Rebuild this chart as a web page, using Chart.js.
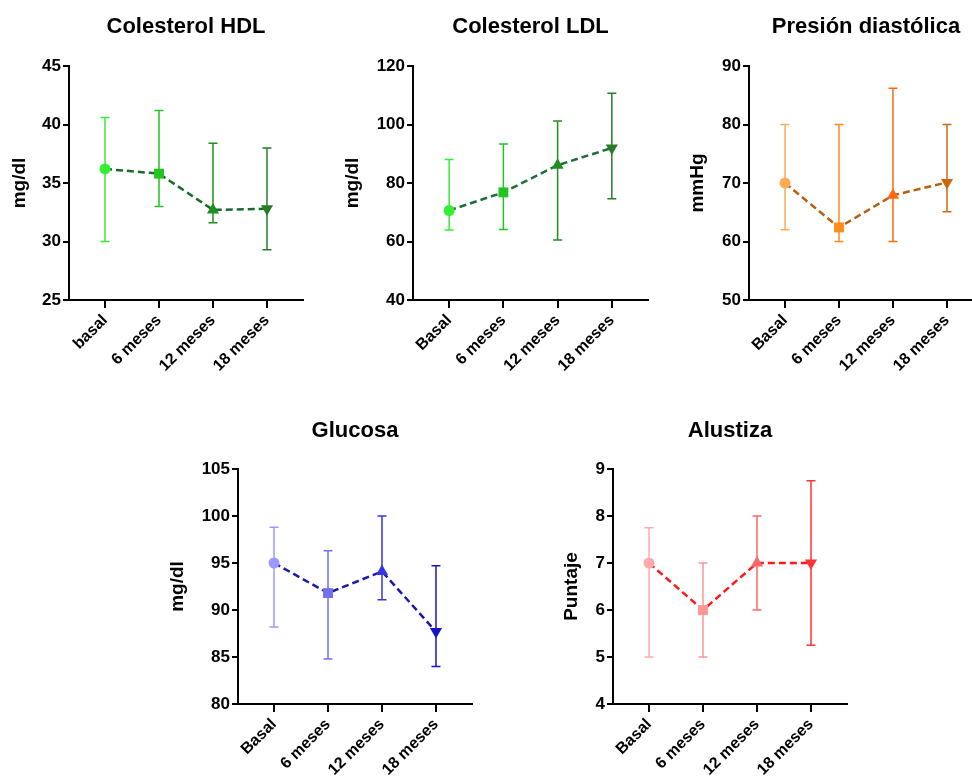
<!DOCTYPE html>
<html>
<head>
<meta charset="utf-8">
<script src="https://cdn.jsdelivr.net/npm/chart.js@4"></script>
<style>
  html, body { margin:0; padding:0; background:#fff; overflow:hidden; width:972px; height:783px; }
  canvas { position:absolute; left:0; top:0; }
</style>
</head>
<body>
<canvas id="c1" width="1000" height="783"></canvas>
<canvas id="c2" width="1000" height="783"></canvas>
<canvas id="c3" width="1000" height="783"></canvas>
<canvas id="c4" width="1000" height="783"></canvas>
<canvas id="c5" width="1000" height="783"></canvas>
<script>
// categorias
var labelsHdl = ['basal', '6 meses', '12 meses', '18 meses'];
var labels = ['Basal', '6 meses', '12 meses', '18 meses'];

// Colesterol HDL
var hdlMean = [36.2, 35.8, 32.7, 32.8];
var hdlLow  = [30.0, 33.0, 31.6, 29.3];
var hdlHigh = [40.6, 41.2, 38.4, 38.0];
var hdlTicks = [25, 30, 35, 40, 45];

// Colesterol LDL
var ldlMean = [70.6, 76.8, 86.1, 92.0];
var ldlLow  = [63.9, 64.1, 60.5, 74.6];
var ldlHigh = [88.0, 93.3, 101.2, 110.7];
var ldlTicks = [40, 60, 80, 100, 120];

// Presion diastolica
var padMean = [70.0, 62.4, 67.9, 70.1];
var padLow  = [62.0, 60.0, 60.0, 65.1];
var padHigh = [80.0, 80.0, 86.2, 80.0];
var padTicks = [50, 60, 70, 80, 90];

// Glucosa
var gluMean = [95.0, 91.8, 94.1, 87.7];
var gluLow  = [88.2, 84.8, 91.1, 84.0];
var gluHigh = [98.8, 96.3, 100.0, 94.7];
var gluTicks = [80, 85, 90, 95, 100, 105];

// Alustiza
var aluMean = [7.0, 6.0, 7.0, 7.0];
var aluLow  = [5.0, 5.0, 6.0, 5.25];
var aluHigh = [7.75, 7.0, 8.0, 8.75];
var aluTicks = [4, 5, 6, 7, 8, 9];

var errorBars = {
  id: 'errorBars',
  beforeDatasetsDraw: function(chart, args, opts) {
    var ctx = chart.ctx, x = chart.scales.x, y = chart.scales.y;
    chart.data.datasets[0].data.forEach(function(p, i) {
      var px = x.getPixelForValue(p.x);
      var top = y.getPixelForValue(opts.high[i]);
      var bot = y.getPixelForValue(opts.low[i]);
      ctx.save();
      ctx.strokeStyle = opts.colors[i];
      ctx.lineWidth = 1.5;
      ctx.beginPath();
      ctx.moveTo(px, top); ctx.lineTo(px, bot);
      ctx.moveTo(px - 4.5, top); ctx.lineTo(px + 4.5, top);
      ctx.moveTo(px - 4.5, bot); ctx.lineTo(px + 4.5, bot);
      ctx.stroke();
      ctx.restore();
    });
  }
};

function panel(id, title, yTitle, cats, mean, low, high, ticks, colors, lineColor, area, titleY, yTitleX) {
  var padLeft = yTitleX - 11.4;
  return new Chart(document.getElementById(id), {
    type: 'line',
    data: {
      datasets: [{
        data: mean.map(function(v, i) { return {x: i, y: v}; }),
        borderColor: lineColor,
        borderWidth: 2.5,
        borderDash: [7, 4],
        fill: false,
        pointStyle: ['circle', 'rect', 'triangle', 'triangle'],
        pointRotation: [0, 0, 0, 180],
        pointRadius: [5.5, 7, 7, 7],
        pointBackgroundColor: colors,
        pointBorderColor: colors,
        pointBorderWidth: 0
      }]
    },
    options: {
      responsive: false,
      animation: false,
      events: [],
      layout: { padding: { left: padLeft, right: 1000 - area.r, top: titleY - 13.2, bottom: 0 } },
      plugins: {
        legend: { display: false },
        tooltip: { enabled: false },
        title: {
          display: true, text: title, color: '#000', fullSize: false,
          font: { family: 'Liberation Sans', size: 22, weight: 'bold', lineHeight: 1.2 },
          padding: { top: 0, bottom: area.t - titleY - 13.2 }
        },
        errorBars: { low: low, high: high, colors: colors }
      },
      scales: {
        x: {
          type: 'linear', min: -0.667, max: 3.667,
          afterBuildTicks: function(s) { s.ticks = cats.map(function(c, i) { return {value: i}; }); },
          afterFit: function(s) { s.height = 783 - area.b; s.paddingLeft = 0; s.paddingRight = 0; },
          grid: { drawOnChartArea: false, color: '#000', lineWidth: 2, tickLength: 8 },
          border: { color: '#000', width: 2 },
          ticks: {
            autoSkip: false, minRotation: 45, maxRotation: 45, padding: 3, color: '#000',
            font: { family: 'Liberation Sans', size: 16, weight: 'bold' },
            callback: function(v) { return cats[v]; }
          }
        },
        y: {
          min: ticks[0], max: ticks[ticks.length - 1],
          afterBuildTicks: function(s) { s.ticks = ticks.map(function(v) { return {value: v}; }); },
          afterFit: function(s) { s.width = area.l - padLeft; s.paddingTop = 0; s.paddingBottom = 0; },
          grid: { drawOnChartArea: false, color: '#000', lineWidth: 2, tickLength: 6 },
          border: { color: '#000', width: 2 },
          ticks: { padding: 2, color: '#000', font: { family: 'Liberation Sans', size: 17, weight: 'bold' } },
          title: {
            display: true, text: yTitle, color: '#000', padding: 0,
            font: { family: 'Liberation Sans', size: 19, weight: 'bold', lineHeight: 1.2 }
          }
        }
      }
    },
    plugins: [errorBars]
  });
}

panel('c1', 'Colesterol HDL', 'mg/dl', labelsHdl, hdlMean, hdlLow, hdlHigh, hdlTicks,
  ['#33ee33', '#22c422', '#1f8f1f', '#2a7a2a'], '#176b2c',
  {l: 69, t: 66, r: 303, b: 300}, 27, 20);
panel('c2', 'Colesterol LDL', 'mg/dl', labels, ldlMean, ldlLow, ldlHigh, ldlTicks,
  ['#33ee33', '#22c422', '#1f8f1f', '#2a7a2a'], '#1f6e3a',
  {l: 413, t: 66, r: 648, b: 300}, 27, 353);
panel('c3', 'Presión diastólica', 'mmHg', labels, padMean, padLow, padHigh, padTicks,
  ['#ffaa55', '#ff8c1a', '#ff6a10', '#cc6a10'], '#b8600f',
  {l: 749, t: 66, r: 983, b: 300}, 27, 698);
panel('c4', 'Glucosa', 'mg/dl', labels, gluMean, gluLow, gluHigh, gluTicks,
  ['#9999ff', '#7070f0', '#3535e8', '#1515c8'], '#1a1aaa',
  {l: 238, t: 469, r: 472, b: 704}, 431, 178);
panel('c5', 'Alustiza', 'Puntaje', labels, aluMean, aluLow, aluHigh, aluTicks,
  ['#ffaaaa', '#ff9595', '#ff6666', '#ff3333'], '#ff1a1a',
  {l: 613, t: 469, r: 847, b: 704}, 431, 572);
</script>
</body>
</html>
